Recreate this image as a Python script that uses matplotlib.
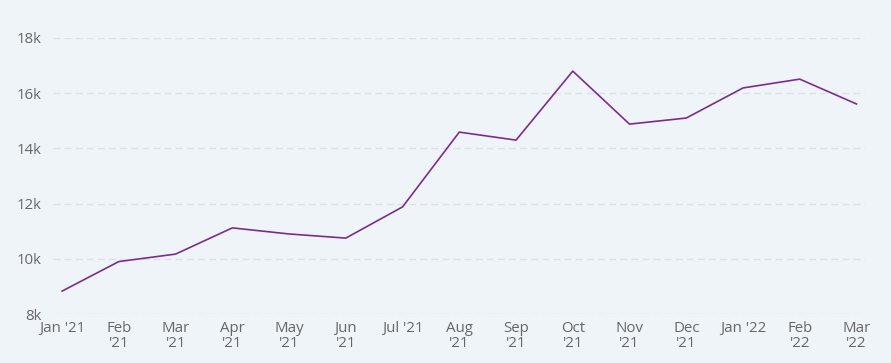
import matplotlib.pyplot as plt

# Datos
months = ["Jan '21", "Feb\n'21", "Mar\n'21", "Apr\n'21", "May\n'21", "Jun\n'21", "Jul '21",
          "Aug\n'21", "Sep\n'21", "Oct\n'21", "Nov\n'21", "Dec\n'21", "Jan '22", "Feb\n'22", "Mar\n'22"]
values = [8830, 9900, 10170, 11120, 10900, 10750, 11880, 14590, 14300, 16800,
          14880, 15100, 16190, 16510, 15610]
y_ticks = [8000, 10000, 12000, 14000, 16000, 18000]
y_labels = ["8k", "10k", "12k", "14k", "16k", "18k"]

bg = "#eff4f9"
plt.rcParams['font.family'] = ['Open Sans', 'DejaVu Sans']

fig = plt.figure(figsize=(8.91, 3.63), dpi=100, facecolor=bg)
ax = fig.add_axes([53 / 891, 49 / 363, (865 - 53) / 891, (314 - 38) / 363], facecolor=bg)

x = list(range(len(values)))
ax.plot(x, values, color="#7b2d8e", linewidth=1.2, zorder=3)

ax.set_xlim(-0.16, 14.15)
ax.set_ylim(8000, 18000)
ax.set_yticks(y_ticks)
ax.set_yticklabels(y_labels)
ax.set_xticks(x)
ax.set_xticklabels(months, linespacing=1.0, va="top")

ax.grid(axis="y", color="#dce1e6", linestyle=(0, (5, 3)), linewidth=1)
for s in ax.spines.values():
    s.set_visible(False)
ax.tick_params(length=0, colors="#666666", labelsize=10.8)
ax.tick_params(axis="y", pad=8)
ax.tick_params(axis="x", pad=5)

fig.savefig("out.png", dpi=100, facecolor=bg)
